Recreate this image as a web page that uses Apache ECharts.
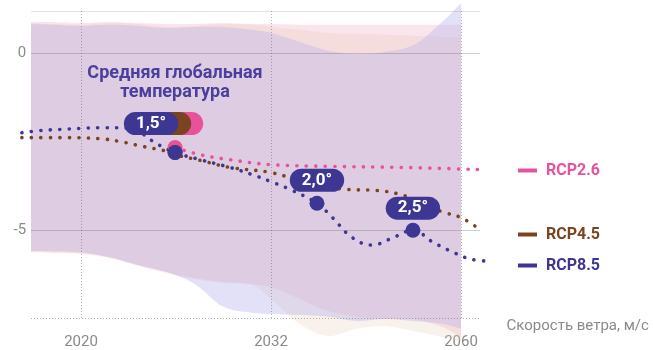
<!DOCTYPE html>
<html>
<head>
<meta charset="utf-8">
<script src="https://cdn.jsdelivr.net/npm/echarts@6/dist/echarts.min.js"></script>
<style>html,body{margin:0;padding:0;background:#fff}#c{width:653px;height:350px}</style>
</head>
<body>
<div id="c"></div>
<script>
// ---------- data ----------
const xTickPos = [0, 10, 20];
const xTickLabels = ['2020', '2032', '2060'];
const yTickPos = [0, -5];
const seriesNames = ['RCP2.6', 'RCP4.5', 'RCP8.5'];

// uncertainty bands (x positions shared)
const bandX = [-2.63, -1.5, 0, 1.5, 3, 4.5, 6, 7.5, 9, 10, 11.5, 13, 14.5, 16, 17.5, 19, 20];
const rcp26Hi = [0.87, 0.87, 0.84, 0.87, 0.84, 0.81, 0.81, 0.84, 0.81, 0.81, 0.79, 0.79, 0.79, 0.79, 0.79, 0.79, 0.79];
const rcp26Lo = [-5.59, -5.62, -5.65, -5.76, -5.98, -6.18, -6.35, -6.46, -6.52, -6.60, -6.94, -7.28, -7.44, -7.50, -7.50, -7.72, -8.01];
const rcp45Hi = [0.84, 0.81, 0.79, 0.84, 0.81, 0.73, 0.76, 0.81, 0.79, 0.73, 0.65, 0.56, 0.53, 0.51, 0.48, 0.45, 0.45];
const rcp45Lo = [-5.62, -5.65, -5.67, -5.79, -6.01, -6.21, -6.38, -6.49, -6.54, -6.94, -7.64, -7.98, -7.78, -7.70, -7.84, -8.01, -8.12];
const rcp85Hi = [0.81, 0.79, 0.76, 0.79, 0.76, 0.70, 0.73, 0.73, 0.65, 0.56, 0.31, 0.06, -0.03, 0.03, 0.22, 0.87, 1.40];
const rcp85Lo = [-5.59, -5.59, -5.62, -5.76, -5.98, -6.18, -6.52, -7.16, -7.33, -7.36, -7.39, -7.44, -7.56, -7.50, -7.56, -7.64, -7.78];

// central lines
const rcp26Line = [[4.95,-2.67],[6.26,-2.87],[7.84,-3.01],[9.95,-3.15],[13.1,-3.2],[16.79,-3.23],[21.0,-3.29]];
const rcp45Line = [[-3.11,-2.39],[-1.11,-2.39],[1.0,-2.42],[2.05,-2.5],[3.26,-2.64],[4.32,-2.75],[4.95,-2.87],[6.26,-3.03],[7.84,-3.23],[9.95,-3.37],[11.53,-3.6],[12.84,-3.76],[14.0,-3.85],[15.58,-3.88],[16.79,-3.99],[17.84,-4.21],[19.05,-4.49],[19.95,-4.63],[20.84,-4.92]];
const rcp85Line = [[-3.11,-2.25],[-2.16,-2.19],[-1.11,-2.16],[-0.05,-2.13],[1.0,-2.11],[2.05,-2.11],[3.11,-2.25],[3.89,-2.53],[4.95,-2.81],[6.26,-3.01],[7.84,-3.23],[9.16,-3.46],[9.95,-3.62],[11.0,-3.85],[12.42,-4.24],[13.21,-4.63],[14.26,-5.20],[15.32,-5.42],[16.26,-5.25],[17.47,-5.0],[18.53,-5.34],[19.58,-5.62],[20.47,-5.81],[21.37,-5.87]];

// warming thresholds: [x, y, label]
const rcp26Marks = [[4.95, -2.67, '1,5°']];
const rcp45Marks = [[4.95, -2.81, '1,5°']];
const rcp85Marks = [[4.95, -2.81, '1,5°'], [12.42, -4.24, '2,0°'], [17.47, -5.0, '2,5°']];

// ---------- styling ----------
const C26 = '#e8529a', C45 = '#7b4420', C85 = '#3d3692';
const FONT = 'Roboto, "Noto Sans", sans-serif';
const pillOffsets26 = [[1, -24]];
const pillOffsets45 = [[-11, -29]];
const pillOffsets85 = [[-24, -29], [0, -23], [0, -22]];

function band(lo, hi, color) {
  return {
    type: 'custom', silent: true, z: 1, clip: false, animation: false,
    data: bandX.map((x, i) => [x, lo[i], hi[i]]),
    encode: {x: 0, y: [1, 2]},
    renderItem: function (params, api) {
      if (params.dataIndexInside !== 0) return;
      const n = params.dataInsideLength;
      const top = [], bot = [];
      for (let i = 0; i < n; i++) {
        top.push(api.coord([api.value(0, i), api.value(2, i)]));
        bot.push(api.coord([api.value(0, i), api.value(1, i)]));
      }
      bot.reverse();
      const pts = [top[0]].concat(top, [top[n - 1]], [bot[0]], bot, [bot[n - 1]]);
      return {type: 'polygon', shape: {points: pts, smooth: 0.35}, style: {fill: color}};
    }
  };
}

function marks(list, offsets, color, z, textColor) {
  return {
    symbol: 'circle', symbolSize: 15, z: z, silent: true, animation: false,
    itemStyle: {color: color},
    label: {show: true, position: 'inside', formatter: p => p.name, color: textColor, fontFamily: FONT,
      fontWeight: 'bold', fontSize: 17, lineHeight: 19, backgroundColor: color,
      padding: [2, 12, 2, 12], borderRadius: 12},
    data: list.map((m, i) => ({coord: [m[0], m[1]], name: m[2], label: {offset: offsets[i]}}))
  };
}

function lineSeries(name, data, color, mp) {
  return {type: 'line', name: name, data: data, smooth: 0.4, symbol: 'none', z: 3,
    clip: false, color: color,
    lineStyle: {color: color, width: 3.6, type: [0.1, 9.4], cap: 'round'},
    markPoint: mp};
}

const gridLineX0 = -2.63, gridLineX1 = 21.0, gridTop = 1.18, gridBot = -7.47;
const solid = c => ({type: 'solid', color: c, width: 1});
const dotted = {type: [1, 2], color: 'rgba(100,100,100,0.5)', width: 1};
const gridLines = [
  [{coord: [gridLineX0, gridTop], lineStyle: solid('rgba(120,120,120,0.22)')}, {coord: [gridLineX1, gridTop]}],
  [{coord: [gridLineX0, 0], lineStyle: solid('rgba(100,100,100,0.3)')}, {coord: [gridLineX1, 0]}],
  [{coord: [gridLineX0, -5], lineStyle: solid('rgba(100,100,100,0.3)')}, {coord: [gridLineX1, -5]}],
  [{coord: [gridLineX0, gridBot], lineStyle: dotted}, {coord: [gridLineX1, gridBot]}]
].concat(xTickPos.map(x => [{coord: [x, gridTop], lineStyle: dotted}, {coord: [x, gridBot]}]));

const series = [
  band(rcp26Lo, rcp26Hi, 'rgba(240,170,195,0.30)'),
  band(rcp45Lo, rcp45Hi, 'rgba(230,200,175,0.25)'),
  band(rcp85Lo, rcp85Hi, 'rgba(185,180,235,0.40)'),
  {type: 'line', data: [[0, 0]], symbol: 'none', lineStyle: {opacity: 0}, silent: true, z: 2,
    markLine: {symbol: 'none', silent: true, animation: false, label: {show: false}, data: gridLines}},
  lineSeries(seriesNames[0], rcp26Line, C26, marks(rcp26Marks, pillOffsets26, C26, 5, C26)),
  lineSeries(seriesNames[1], rcp45Line, C45, marks(rcp45Marks, pillOffsets45, C45, 6, C45)),
  lineSeries(seriesNames[2], rcp85Line, C85, marks(rcp85Marks, pillOffsets85, C85, 7, '#fff'))
];

function legendFor(name, color, top) {
  return {data: [name], left: 513, top: top, icon: 'rect', itemWidth: 19, itemHeight: 4,
    selectedMode: false, textStyle: {color: color, fontFamily: FONT, fontWeight: 'bold', fontSize: 16, padding: [0, 0, 0, 4]}};
}

const option = {
  animation: false,
  backgroundColor: '#fff',
  grid: {left: 20.2, right: 165.4, top: 1.4, bottom: 22.9},
  xAxis: {
    type: 'value', min: -3.2, max: 21.4,
    axisLine: {show: false, onZero: false}, axisTick: {show: false}, splitLine: {show: false},
    axisLabel: {customValues: xTickPos, formatter: v => xTickLabels[xTickPos.indexOf(v)] || '',
      color: '#8a8a8a', fontSize: 15, fontFamily: FONT, margin: 9},
    name: 'Скорость ветра, м/с', nameLocation: 'end', nameGap: 19,
    nameTextStyle: {color: '#8a8a8a', fontSize: 15, fontFamily: FONT, align: 'left', verticalAlign: 'middle', padding: [0, 0, 4, 0]}
  },
  yAxis: {
    type: 'value', min: -7.7, max: 1.45,
    axisLine: {show: false, onZero: false}, axisTick: {show: false}, splitLine: {show: false},
    axisLabel: {customValues: yTickPos, formatter: v => String(v), color: '#8a8a8a', fontSize: 15, fontFamily: FONT, margin: -6}
  },
  legend: [legendFor(seriesNames[0], C26, 157.5), legendFor(seriesNames[1], C45, 221.5), legendFor(seriesNames[2], C85, 252.5)],
  graphic: [{
    type: 'text', x: 175, y: 64, z: 10,
    style: {text: 'Средняя глобальная\nтемпература', align: 'center', fill: '#4a3f9c',
      font: 'bold 18px ' + FONT, lineHeight: 19}
  }],
  series: series
};

const chart = echarts.init(document.getElementById('c'), null, {renderer: 'canvas'});
chart.setOption(option);
</script>
</body>
</html>
